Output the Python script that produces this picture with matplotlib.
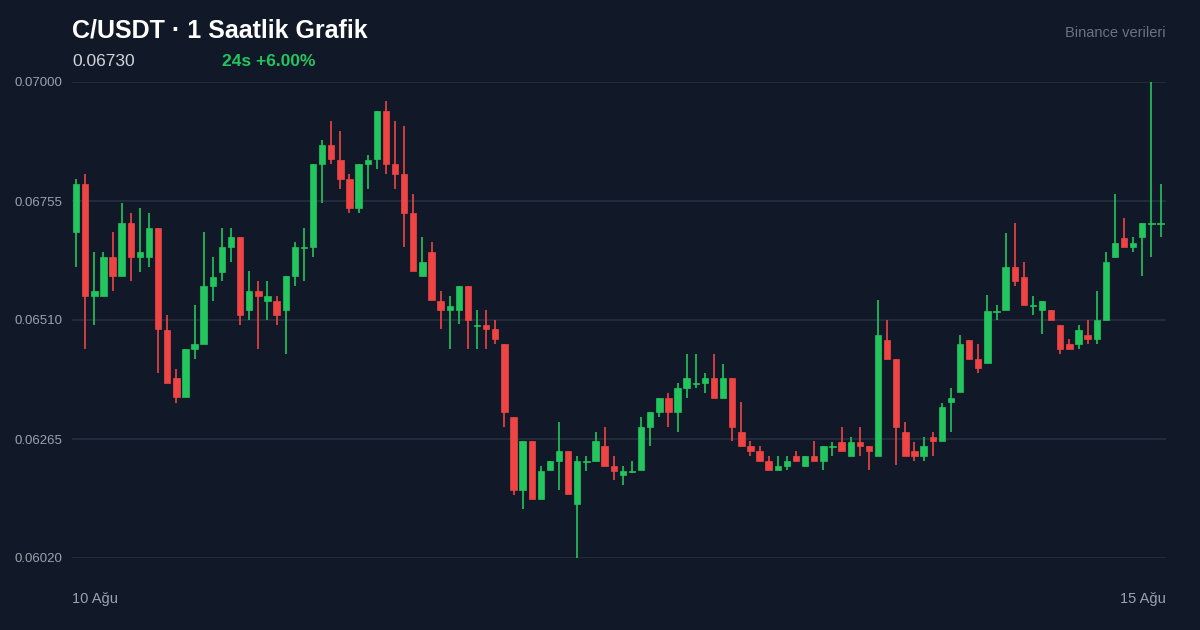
import matplotlib
matplotlib.use("Agg")
import matplotlib.pyplot as plt
import numpy as np

opens = [0.06691,0.06790,0.06559,0.06559,0.06640,0.06601,0.06710,0.06640,0.06640,0.06699,
0.06489,0.06391,0.06351,0.06450,0.06461,0.06580,0.06609,0.06660,0.06681,0.06531,
0.06570,0.06549,0.06549,0.06531,0.06601,0.06658,0.06660,0.06831,0.06870,0.06839,
0.06800,0.06741,0.06831,0.06842,0.06940,0.06831,0.06811,0.06730,0.06601,0.06650,
0.06549,0.06531,0.06531,0.06580,0.06498,0.06500,0.06491,0.06461,0.06310,0.06160,
0.06261,0.06141,0.06201,0.06220,0.06240,0.06131,0.06218,0.06220,0.06251,0.06209,
0.06191,0.06197,0.06201,0.06290,0.06321,0.06349,0.06321,0.06370,0.06378,0.06380,
0.06391,0.06349,0.06391,0.06279,0.06251,0.06240,0.06220,0.06201,0.06209,0.06230,
0.06209,0.06230,0.06220,0.06249,0.06259,0.06230,0.06259,0.06251,0.06230,0.06469,
0.06430,0.06279,0.06240,0.06230,0.06269,0.06261,0.06341,0.06362,0.06469,0.06430,
0.06421,0.06526,0.06531,0.06619,0.06599,0.06539,0.06531,0.06531,0.06500,0.06461,
0.06461,0.06479,0.06471,0.06510,0.06640,0.06679,0.06660,0.06681,0.06708,0.06708]
highs = [0.06800,0.06811,0.06650,0.06650,0.06691,0.06751,0.06730,0.06741,0.06730,0.06699,
0.06520,0.06409,0.06450,0.06541,0.06691,0.06640,0.06699,0.06699,0.06681,0.06611,
0.06590,0.06590,0.06559,0.06601,0.06671,0.06699,0.06831,0.06881,0.06920,0.06899,
0.06811,0.06831,0.06850,0.06940,0.06961,0.06920,0.06909,0.06769,0.06681,0.06671,
0.06570,0.06559,0.06580,0.06580,0.06531,0.06531,0.06510,0.06461,0.06310,0.06261,
0.06261,0.06209,0.06220,0.06300,0.06240,0.06230,0.06230,0.06279,0.06290,0.06230,
0.06209,0.06220,0.06310,0.06321,0.06349,0.06360,0.06380,0.06440,0.06440,0.06401,
0.06440,0.06419,0.06391,0.06341,0.06261,0.06251,0.06230,0.06230,0.06230,0.06240,
0.06230,0.06261,0.06251,0.06259,0.06290,0.06269,0.06290,0.06251,0.06551,0.06510,
0.06430,0.06300,0.06259,0.06269,0.06279,0.06339,0.06370,0.06479,0.06469,0.06461,
0.06561,0.06541,0.06689,0.06710,0.06629,0.06559,0.06549,0.06531,0.06500,0.06471,
0.06500,0.06510,0.06570,0.06650,0.06769,0.06720,0.06681,0.06710,0.07000,0.06790]
lows = [0.06619,0.06450,0.06500,0.06559,0.06570,0.06601,0.06590,0.06609,0.06619,0.06401,
0.06380,0.06339,0.06351,0.06430,0.06461,0.06549,0.06590,0.06629,0.06500,0.06510,
0.06450,0.06510,0.06500,0.06440,0.06580,0.06590,0.06640,0.06751,0.06831,0.06780,
0.06730,0.06730,0.06780,0.06821,0.06811,0.06780,0.06660,0.06611,0.06601,0.06551,
0.06491,0.06450,0.06502,0.06450,0.06450,0.06450,0.06461,0.06290,0.06150,0.06121,
0.06141,0.06141,0.06201,0.06160,0.06152,0.06020,0.06199,0.06220,0.06209,0.06181,
0.06170,0.06195,0.06201,0.06251,0.06310,0.06290,0.06279,0.06349,0.06370,0.06360,
0.06349,0.06349,0.06261,0.06251,0.06230,0.06220,0.06201,0.06201,0.06201,0.06220,
0.06209,0.06220,0.06201,0.06230,0.06240,0.06230,0.06230,0.06201,0.06230,0.06430,
0.06211,0.06230,0.06220,0.06220,0.06230,0.06261,0.06279,0.06362,0.06430,0.06401,
0.06421,0.06510,0.06531,0.06580,0.06541,0.06520,0.06481,0.06510,0.06440,0.06450,
0.06450,0.06461,0.06461,0.06510,0.06640,0.06660,0.06650,0.06601,0.06640,0.06681]
closes = [0.06790,0.06559,0.06570,0.06640,0.06601,0.06710,0.06640,0.06650,0.06699,0.06491,
0.06380,0.06351,0.06450,0.06461,0.06580,0.06599,0.06660,0.06681,0.06520,0.06570,
0.06559,0.06559,0.06520,0.06601,0.06660,0.06660,0.06831,0.06870,0.06842,0.06800,
0.06741,0.06831,0.06839,0.06940,0.06831,0.06811,0.06730,0.06611,0.06629,0.06551,
0.06531,0.06539,0.06580,0.06510,0.06500,0.06491,0.06471,0.06321,0.06160,0.06261,
0.06141,0.06199,0.06220,0.06240,0.06152,0.06220,0.06220,0.06261,0.06209,0.06199,
0.06199,0.06199,0.06290,0.06321,0.06349,0.06321,0.06370,0.06391,0.06380,0.06391,
0.06349,0.06391,0.06290,0.06251,0.06240,0.06220,0.06201,0.06209,0.06220,0.06220,
0.06230,0.06220,0.06251,0.06251,0.06240,0.06259,0.06251,0.06240,0.06479,0.06430,
0.06290,0.06230,0.06230,0.06251,0.06261,0.06331,0.06349,0.06461,0.06430,0.06411,
0.06529,0.06529,0.06619,0.06590,0.06541,0.06541,0.06549,0.06510,0.06450,0.06450,
0.06489,0.06471,0.06510,0.06629,0.06669,0.06660,0.06669,0.06710,0.06710,0.06710]

y_ticks = [0.07000, 0.06755, 0.06510, 0.06265, 0.06020]
x_labels = ["10 Ağu", "15 Ağu"]
title = "C/USDT · 1 Saatlik Grafik"
last_price = "0.06730"
change = "24s +6.00%"
source = "Binance verileri"

BG = "#111827"
GREEN = "#22c55e"
RED = "#ef4444"
GRID = "#253040"

plt.rcParams['font.family'] = ['Liberation Sans', 'DejaVu Sans']
W, H = 1200, 630
fig = plt.figure(figsize=(12, 6.3), dpi=100, facecolor=BG)
ax = fig.add_axes([72 / W, 1 - 558 / H, (1166 - 72) / W, (558 - 82) / H])
ax.set_facecolor(BG)

n = len(opens)
x = np.arange(n)
for i in range(n):
    o, h, l, c = opens[i], highs[i], lows[i], closes[i]
    col = GREEN if c >= o else RED
    ax.vlines(x[i], l, h, color=col, linewidth=1.2, zorder=2)
    bot = min(o, c)
    ht = max(abs(c - o), 0.000012)
    ax.bar(x[i], ht, bottom=bot, width=0.7, color=col, edgecolor=col,
           linewidth=0.5, zorder=3)

ax.set_ylim(0.06020, 0.07000)
ax.set_xlim(-0.45, n - 1 + 0.6)
for t in y_ticks:
    ax.axhline(t, color=GRID, linewidth=1.2, zorder=1)
ax.set_yticks(y_ticks)
ax.set_yticklabels([f"{t:.5f}" for t in y_ticks])
ax.tick_params(axis='y', length=0, pad=7, labelcolor="#9ca3af", labelsize=9.5)
ax.set_xticks([])
for s in ax.spines.values():
    s.set_visible(False)

fig.text(72 / W, 1 - 30 / H, title, color="white", fontsize=18, fontweight="bold", va="center", ha="left")
fig.text(72 / W, 1 - 61 / H, last_price, color="#d1d5db", fontsize=12.5, va="center", ha="left")
fig.text(222 / W, 1 - 61 / H, change, color=GREEN, fontsize=12.5, fontweight="bold", va="center", ha="left")
fig.text(1166 / W, 1 - 33 / H, source, color="#6b7280", fontsize=10.5, va="center", ha="right")
fig.text(72 / W, 1 - 599 / H, x_labels[0], color="#9ca3af", fontsize=10.5, va="center", ha="left")
fig.text(1166 / W, 1 - 599 / H, x_labels[1], color="#9ca3af", fontsize=10.5, va="center", ha="right")

fig.savefig("out.png", dpi=100, facecolor=BG)
